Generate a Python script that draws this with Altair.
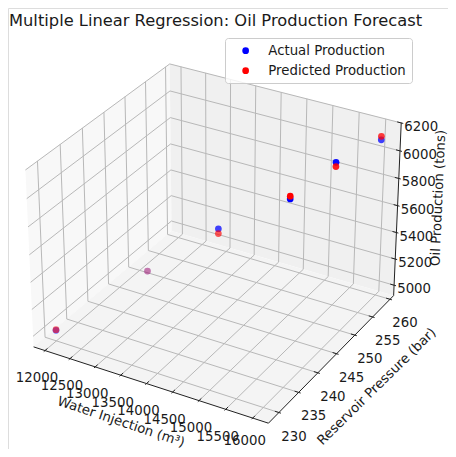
import numpy as np
import pandas as pd
import altair as alt

# ---------------- data ----------------
water_injection = [12000, 13000, 14000, 15000, 15500, 16000]          # m³
reservoir_pressure = [230, 240, 245, 250, 255, 260]                     # bar
actual_production = [5000, 5290, 5585, 5785, 5980, 6075]                # tons
predicted_production = [5005, 5290, 5550, 5805, 5950, 6100]             # tons

series_names = ["Actual Production", "Predicted Production"]
series_colors = ["blue", "red"]

x_ticks = [12000, 12500, 13000, 13500, 14000, 14500, 15000, 15500, 16000]
y_ticks = [230, 235, 240, 245, 250, 255, 260]
z_ticks = [5000, 5200, 5400, 5600, 5800, 6000, 6200]

# limits of the 3-D box (axis limits incl. matplotlib's pane padding)
x_box = [11769.4, 16288.8]
y_box = [227.4, 261.06]
z_box = [4920.0, 6201.0]

FONT = "DejaVu Sans"

# ---------------- matplotlib-like 3-D perspective (elev=30, azim=-60) ----------------
ELEV, AZIM, DIST = 30.0, -60.0, 10.0
aspect = np.array([4.0, 4.0, 3.0])
aspect = aspect * 1.8294640721620434 / np.linalg.norm(aspect)
er, ar = np.deg2rad(ELEV), np.deg2rad(AZIM)
w_vec = np.array([np.cos(er) * np.cos(ar), np.cos(er) * np.sin(ar), np.sin(er)])
u_vec = np.cross([0.0, 0.0, 1.0], w_vec)
u_vec = u_vec / np.linalg.norm(u_vec)
v_vec = np.cross(w_vec, u_vec)
PIX, CX, CY = 2355.0, 216.8, 235.2

W, H = 440, 441
BOTTOM = 8 + H - 2          # lowest pixel row that is still visible


def project(x, y, z):
    t = np.array([
        (x - x_box[0]) / (x_box[1] - x_box[0]),
        (y - y_box[0]) / (y_box[1] - y_box[0]),
        (z - z_box[0]) / (z_box[1] - z_box[0]),
    ])
    d = (t - 0.5) * aspect
    den = DIST - float(w_vec @ d)
    return CX + PIX * float(u_vec @ d) / den, CY - PIX * float(v_vec @ d) / den, den


X0, X1 = x_box
Y0, Y1 = y_box
Z0, Z1 = z_box


def seg(p, q, kind):
    a = project(*p)
    b = project(*q)
    return dict(kind=kind, px=a[0], py=a[1], px2=b[0], py2=b[1])


def polyline(pts, kind):
    return [seg(pts[i], pts[i + 1], kind) for i in range(len(pts) - 1)]


# panes
def area_rows(name, color, verts):
    P = [project(*v)[:2] for v in verts]
    xs = sorted(set(p[0] for p in P))
    rows = []
    n = len(P)
    for xv in xs:
        ys_ = []
        for i in range(n):
            (x1, y1), (x2, y2) = P[i], P[(i + 1) % n]
            lo, hi = min(x1, x2), max(x1, x2)
            if lo - 1e-6 <= xv <= hi + 1e-6:
                if abs(x2 - x1) < 1e-9:
                    ys_ += [y1, y2]
                else:
                    ys_.append(y1 + (y2 - y1) * (xv - x1) / (x2 - x1))
        rows.append(dict(pane=name, color=color, px=xv, lo=min(ys_), hi=max(ys_)))
    return rows


pane_rows = []
pane_rows += area_rows("xpane", "#f8f8f8", [(X0, Y0, Z0), (X0, Y1, Z0), (X0, Y1, Z1), (X0, Y0, Z1)])
pane_rows += area_rows("ypane", "#f0f0f0", [(X0, Y1, Z0), (X1, Y1, Z0), (X1, Y1, Z1), (X0, Y1, Z1)])
pane_rows += area_rows("zpane", "#f4f4f4", [(X0, Y0, Z0), (X1, Y0, Z0), (X1, Y1, Z0), (X0, Y1, Z0)])
panes = pd.DataFrame(pane_rows)

# grid lines
grid_rows = []
for xt in x_ticks:
    grid_rows += polyline([(xt, Y0, Z0), (xt, Y1, Z0), (xt, Y1, Z1)], "grid")
for yt in y_ticks:
    grid_rows += polyline([(X1, yt, Z0), (X0, yt, Z0), (X0, yt, Z1)], "grid")
for zt in z_ticks:
    grid_rows += polyline([(X0, Y0, zt), (X0, Y1, zt), (X1, Y1, zt)], "grid")
grid = pd.DataFrame(grid_rows)

# axis lines and tick marks
dx12 = (X1 - X0) / 12.0
dy12 = (Y1 - Y0) / 12.0
axis_rows = [
    seg((X0, Y0, Z0), (X1, Y0, Z0), "axis"),
    seg((X1, Y0, Z0), (X1, Y1, Z0), "axis"),
    seg((X1, Y1, Z0), (X1, Y1, Z1), "axis"),
]
for xt in x_ticks:
    axis_rows.append(seg((xt, Y0 - 0.1 * dy12, Z0), (xt, Y0 + 0.2 * dy12, Z0), "tick"))
for yt in y_ticks:
    axis_rows.append(seg((X1 + 0.1 * dx12, yt, Z0), (X1 - 0.2 * dx12, yt, Z0), "tick"))
for zt in z_ticks:
    axis_rows.append(seg((X1 + 0.1 * dx12, Y1, zt), (X1 - 0.2 * dx12, Y1, zt), "tick"))
axes_df = pd.DataFrame(axis_rows)

# tick labels (kept inside the visible page)
lab_rows = []
for xt in x_ticks:
    p = project(xt, Y0, Z0)
    lab_rows.append(dict(px=p[0] - 8.0, py=min(p[1] + 27.5, BOTTOM - 6.0), label=str(xt)))
for yt in y_ticks:
    p = project(X1, yt, Z0)
    lab_rows.append(dict(px=p[0] + 15.0, py=min(p[1] + 24.0, BOTTOM - 6.0), label=str(yt)))
for zt in z_ticks:
    p = project(X1, Y1, zt)
    lab_rows.append(dict(px=p[0] + 20.0, py=p[1] + 4.0, label=str(zt)))
ticklabels = pd.DataFrame(lab_rows)

# axis titles
px_, py_, _ = project((X0 + X1) / 2, Y0, Z0)
py2_ = project(X1, (Y0 + Y1) / 2, Z0)
pz_ = project(X1, Y1, (Z0 + Z1) / 2)
titles = pd.DataFrame([
    dict(px=px_ - 27.0, py=py_ + 38.0, ang=18.5, label="Water Injection (m³)"),
    dict(px=py2_[0] + 43.0, py=py2_[1] + 30.0, ang=315.5, label="Reservoir Pressure (bar)"),
    dict(px=pz_[0] + 41.0, py=pz_[1] - 13.0, ang=272.5, label="Oil Production (tons)"),
])

# scatter points with matplotlib-style depth shading
pt_rows = []
order = 0
for name, zs in zip(series_names, [actual_production, predicted_production]):
    pr = [project(x, y, z) for x, y, z in zip(water_injection, reservoir_pressure, zs)]
    tz = np.array([-DIST / p[2] for p in pr])
    nz = (tz - tz.min()) / (tz.max() - tz.min())
    alphas = 1.0 - 0.7 * nz
    for p, al in zip(pr, alphas):
        pt_rows.append(dict(series=name, px=p[0], py=p[1], alpha=float(al), order=order))
        order += 1
points = pd.DataFrame(pt_rows)

# ---------------- chart ----------------
xs = alt.Scale(domain=[8, 8 + W], range=[0, W], nice=False, zero=False)
ys = alt.Scale(domain=[8, 8 + H], range=[0, H], nice=False, zero=False)

pane_layer = alt.Chart(panes).mark_area(interpolate="linear", opacity=1).encode(
    x=alt.X("px:Q", scale=xs, axis=None),
    y=alt.Y("lo:Q", scale=ys, axis=None),
    y2="hi:Q",
    color=alt.Color("color:N", scale=None),
    detail="pane:N",
)

grid_layer = alt.Chart(grid).mark_rule(color="#b8b8b8", strokeWidth=1).encode(
    x=alt.X("px:Q", scale=xs, axis=None),
    y=alt.Y("py:Q", scale=ys, axis=None),
    x2="px2:Q",
    y2="py2:Q",
)

axis_layer = alt.Chart(axes_df).mark_rule(color="#222222", strokeWidth=1).encode(
    x=alt.X("px:Q", scale=xs, axis=None),
    y=alt.Y("py:Q", scale=ys, axis=None),
    x2="px2:Q",
    y2="py2:Q",
)

ticklabel_layer = alt.Chart(ticklabels).mark_text(
    font=FONT, fontSize=13.3, color="#1a1a1a", align="center", baseline="middle"
).encode(
    x=alt.X("px:Q", scale=xs, axis=None),
    y=alt.Y("py:Q", scale=ys, axis=None),
    text="label:N",
)

title_layer = alt.Chart(titles).mark_text(
    font=FONT, fontSize=13.3, color="#1a1a1a", align="center", baseline="middle"
).encode(
    x=alt.X("px:Q", scale=xs, axis=None),
    y=alt.Y("py:Q", scale=ys, axis=None),
    angle=alt.Angle("ang:Q", scale=None),
    text="label:N",
)

point_layer = alt.Chart(points).mark_circle(size=45).encode(
    x=alt.X("px:Q", scale=xs, axis=None),
    y=alt.Y("py:Q", scale=ys, axis=None),
    color=alt.Color(
        "series:N",
        scale=alt.Scale(domain=series_names, range=series_colors),
        legend=alt.Legend(
            orient="none", legendX=217, legendY=30, title=None,
            symbolType="circle", symbolSize=45, symbolOpacity=1, symbolStrokeWidth=0,
            labelFont=FONT, labelFontSize=13.3, labelColor="#1a1a1a",
            padding=6, rowPadding=6, symbolOffset=8, labelOffset=16,
            fillColor="rgba(255,255,255,0.8)", strokeColor="#cccccc", cornerRadius=3,
        ),
    ),
    opacity=alt.Opacity("alpha:Q", scale=None, legend=None),
    order="order:Q",
)

chart = alt.layer(
    pane_layer, grid_layer, axis_layer, ticklabel_layer, title_layer, point_layer
).properties(
    width=W,
    height=H,
    autosize="none",
    padding=0,
    title=alt.TitleParams(
        text="Multiple Linear Regression: Oil Production Forecast",
        anchor="start", frame="group", offset=0, dx=1, dy=34,
        baseline="alphabetic", font=FONT, fontSize=16.3, fontWeight="normal", color="#1a1a1a",
    ),
).configure_view(stroke=None).configure(background="white")

chart.save("out.html", embed_options={"renderer": "svg", "actions": False})
